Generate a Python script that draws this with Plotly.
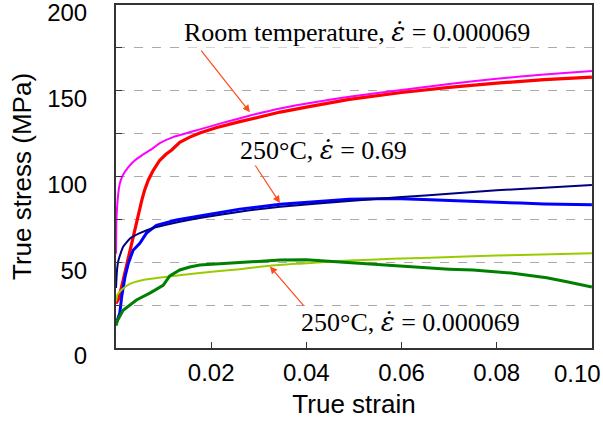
import plotly.graph_objects as go

# Room temperature, strain rate 0.000069 (experiment, red) and model (magenta)
rt_exp_x = [0.0, 0.0006, 0.0012, 0.0017, 0.0022, 0.0028, 0.0033, 0.0038, 0.0043, 0.0048, 0.0054,
            0.006, 0.0068, 0.0078, 0.0092, 0.0105, 0.0117, 0.0134, 0.0155, 0.0176, 0.021, 0.026,
            0.0345, 0.04, 0.049, 0.06, 0.07, 0.08, 0.09, 0.10]
rt_exp_y = [26, 29, 36, 42, 49.5, 55, 61, 67, 74.6, 79, 86, 92, 98, 103.5, 109.5, 113, 115.5, 120,
            123, 125.4, 128.5, 132, 137.6, 140.5, 145, 149, 152, 154.5, 156.5, 158]
rt_fit_x = [0, 0.0001, 0.0004, 0.0008, 0.0015, 0.0026, 0.004, 0.0055, 0.0075, 0.0092, 0.012, 0.0176,
            0.022, 0.028, 0.035, 0.042, 0.049, 0.06, 0.07, 0.08, 0.09, 0.10]
rt_fit_y = [55, 75, 88, 96, 101, 105.5, 109.5, 112.5, 116, 119.5, 123, 127.5, 131, 135.5, 140, 143.5,
            146.5, 150.5, 154, 157, 159.5, 161.5]

# 250 C, strain rate 0.69 (experiment, blue) and model (navy)
hi_exp_x = [0, 0.0004, 0.0008, 0.0012, 0.0019, 0.0026, 0.0036, 0.005, 0.0064, 0.0085, 0.0127, 0.0176,
            0.026, 0.0345, 0.04, 0.045, 0.049, 0.055, 0.06, 0.066, 0.07, 0.075, 0.08, 0.085, 0.09,
            0.095, 0.10]
hi_exp_y = [14, 17, 20.4, 30, 41.6, 49.5, 57, 61, 67, 71.5, 74.6, 77, 81, 83.8, 85, 86, 86.7, 87, 87,
            86.5, 86, 85.5, 85, 84.5, 84, 83.8, 83.5]
hi_fit_x = [0, 0.0002, 0.0005, 0.0015, 0.003, 0.005, 0.0078, 0.0105, 0.0134, 0.0176, 0.026, 0.0345,
            0.049, 0.06, 0.07, 0.08, 0.09, 0.10]
hi_fit_y = [35, 45, 51, 59, 64, 67, 70, 71.8, 73.6, 75.8, 79.5, 82.4, 85.7, 88, 90, 92, 93.5, 95]

# 250 C, strain rate 0.000069 (experiment, green) and model (yellow-green)
lo_exp_x = [0, 0.0003, 0.0015, 0.0043, 0.0071, 0.0099, 0.0113, 0.0134, 0.0155, 0.0176, 0.026, 0.0345,
            0.04, 0.045, 0.049, 0.055, 0.06, 0.066, 0.07, 0.075, 0.083, 0.0905, 0.095, 0.10]
lo_exp_y = [13, 16, 22, 28, 32, 36.5, 42, 45.5, 47.2, 48.4, 49.8, 51.3, 51.5, 50.5, 50, 48.5, 47.5,
            46.6, 46, 45.5, 43.7, 41, 38.5, 35.5]
lo_fit_x = [0, 0.0003, 0.0012, 0.003, 0.0057, 0.0099, 0.0176, 0.026, 0.0324, 0.0387, 0.049, 0.058,
            0.066, 0.075, 0.085, 0.10]
lo_fit_y = [27, 31, 34, 37.5, 39.7, 41.3, 43.7, 46, 48, 49.2, 51, 52, 52.6, 53.5, 54.3, 55.3]

x_tick_vals = [0.02, 0.04, 0.06, 0.08, 0.10]
x_tick_text = ["0.02", "0.04", "0.06", "0.08", ""]
x_last_label = "0.10"
y_tick_vals = [0, 25, 50, 75, 100, 125, 150, 175, 200]
y_tick_text = ["0", "", "50", "", "100", "", "150", "", "200"]

EPS = "<i style='font-family:DejaVu Serif'>ε̇</i>"
labels = ["Room temperature, " + EPS + " = 0.000069", "250°C, " + EPS + " = 0.69",
          "250°C, " + EPS + " = 0.000069"]
label_pos = [(0.0506, 184.5), (0.0435, 115.5), (0.0618, 15.2)]
arrow_tail = [(0.01765, 174.3), (0.02878, 108.5), (0.0397, 23.9)]
arrow_head = [(0.02815, 137.5), (0.03445, 84.6), (0.03235, 47.6)]

fig = go.Figure()
series = [
    (rt_fit_x, rt_fit_y, "#ff00ff", 2, "spline"),
    (rt_exp_x, rt_exp_y, "#ff0000", 3.2, "linear"),
    (hi_exp_x, hi_exp_y, "#0000ff", 3, "linear"),
    (hi_fit_x, hi_fit_y, "#000080", 2, "spline"),
    (lo_fit_x, lo_fit_y, "#99cc00", 2, "spline"),
    (lo_exp_x, lo_exp_y, "#008000", 3, "linear"),
]
for sx, sy, c, w, shp in series:
    line = dict(color=c, width=w, shape=shp)
    if shp == "spline":
        line["smoothing"] = 0.5
    fig.add_trace(go.Scatter(x=sx, y=sy, mode="lines", line=line, showlegend=False))

for (tx, ty), (hx, hy) in zip(arrow_tail, arrow_head):
    fig.add_annotation(x=hx, y=hy, ax=tx, ay=ty, xref="x", yref="y", axref="x", ayref="y",
                       text="", showarrow=True, arrowhead=2, arrowsize=1.2, arrowwidth=1.2,
                       arrowcolor="#ff4a1c")
for t, (lx, ly) in zip(labels, label_pos):
    fig.add_annotation(x=lx, y=ly, xref="x", yref="y", text=t, showarrow=False,
                       font=dict(family="Liberation Serif", size=26, color="black"),
                       bgcolor="white", borderpad=0)

# last x tick label kept inside the page, as in the reference
fig.add_annotation(x=x_tick_vals[-1], y=0, xref="x", yref="paper", text=x_last_label, showarrow=False,
                   xanchor="right", yanchor="top", xshift=10, yshift=-11, borderpad=0,
                   font=dict(family="Liberation Sans", size=24, color="black"))

fig.update_layout(
    width=603, height=427,
    margin=dict(l=116, r=11, t=5, b=79),
    plot_bgcolor="white", paper_bgcolor="white",
    font=dict(family="Liberation Sans", color="black"),
)
fig.update_xaxes(range=[0, 0.10002], tickvals=x_tick_vals, ticktext=x_tick_text, ticks="inside", ticklen=6,
                 tickcolor="#333", showline=True, linecolor="#333", linewidth=2, mirror=True,
                 showgrid=False, zeroline=False, tickfont=dict(size=24), ticklabelstandoff=2,
                 title=dict(text="True strain", font=dict(size=26), standoff=10), automargin=False)
fig.update_yaxes(range=[0, 200.04], tickvals=y_tick_vals, ticktext=y_tick_text, ticks="inside", ticklen=6,
                 tickcolor="#333", showline=True, linecolor="#333", linewidth=2, mirror=True,
                 showgrid=True, gridcolor="#aaaaaa", griddash="dash", gridwidth=1, zeroline=False,
                 tickfont=dict(size=24), ticklabelstandoff=22, ticklabelshift=8, automargin=False,
                 ticklabeloverflow="allow",
                 title=dict(text="True stress (MPa)", font=dict(size=26), standoff=8))

fig.write_html("out.html")
